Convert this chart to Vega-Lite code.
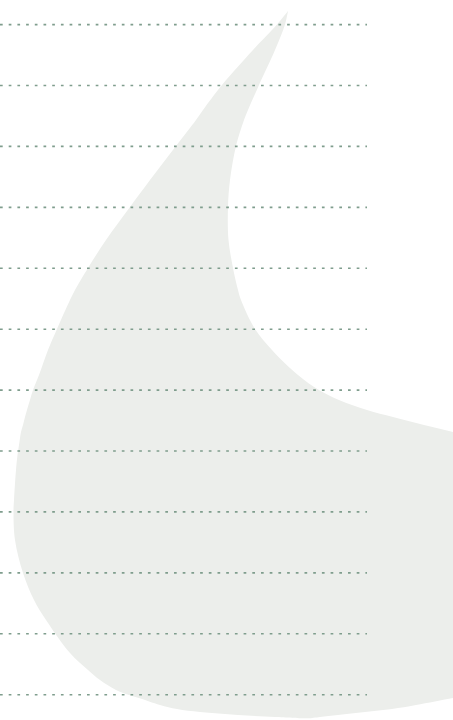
{
  "$schema": "https://vega.github.io/schema/vega-lite/v6.json",
  "width": 453,
  "height": 720,
  "padding": 0,
  "autosize": {"type": "none"},
  "background": "#ffffff",
  "config": {"view": {"stroke": null}},
  "datasets": {
    "shape": [
      {"y": 11, "left": 288, "right": 288},
      {"y": 24.5, "left": 277, "right": 285},
      {"y": 50, "left": 253, "right": 275},
      {"y": 85, "left": 222, "right": 259},
      {"y": 110, "left": 203, "right": 248},
      {"y": 120, "left": 196, "right": 244},
      {"y": 146, "left": 176, "right": 236},
      {"y": 180, "left": 150, "right": 230},
      {"y": 207, "left": 130, "right": 228},
      {"y": 240, "left": 106, "right": 228.5},
      {"y": 268, "left": 88, "right": 233},
      {"y": 290, "left": 75, "right": 238},
      {"y": 300, "left": 70, "right": 241},
      {"y": 329, "left": 57, "right": 255},
      {"y": 350, "left": 48, "right": 272},
      {"y": 375, "left": 39, "right": 298},
      {"y": 390, "left": 33, "right": 319},
      {"y": 400, "left": 30, "right": 339},
      {"y": 410, "left": 27, "right": 367},
      {"y": 417, "left": 25, "right": 393},
      {"y": 425, "left": 23, "right": 424},
      {"y": 432, "left": 21, "right": 453},
      {"y": 438, "left": 20, "right": 478},
      {"y": 445, "left": 19, "right": 506},
      {"y": 455, "left": 17.5, "right": 540},
      {"y": 470, "left": 16, "right": 560},
      {"y": 500, "left": 14, "right": 565},
      {"y": 512, "left": 13.5, "right": 565},
      {"y": 540, "left": 15, "right": 565},
      {"y": 573, "left": 23, "right": 565},
      {"y": 600, "left": 34, "right": 565},
      {"y": 620, "left": 46, "right": 565},
      {"y": 653, "left": 70, "right": 560},
      {"y": 670, "left": 88, "right": 555},
      {"y": 680, "left": 100, "right": 540},
      {"y": 690, "left": 116, "right": 495},
      {"y": 695, "left": 129, "right": 469},
      {"y": 698, "left": 139, "right": 453},
      {"y": 705, "left": 160, "right": 416},
      {"y": 709, "left": 177, "right": 392},
      {"y": 712, "left": 200, "right": 365},
      {"y": 715, "left": 238, "right": 338},
      {"y": 717, "left": 275, "right": 320},
      {"y": 718.3, "left": 302, "right": 310}
    ],
    "grid": [
      {"y": 24.6}, {"y": 85.5}, {"y": 146.4}, {"y": 207.4}, {"y": 268.3}, {"y": 329.2},
      {"y": 390.1}, {"y": 451.0}, {"y": 511.9}, {"y": 572.9}, {"y": 633.8}, {"y": 694.7}
    ]
  },
  "layer": [
    {
      "data": {"name": "shape"},
      "mark": {"type": "area", "orient": "horizontal", "interpolate": "catmull-rom", "color": "#eceeeb", "clip": true},
      "encoding": {
        "y": {"field": "y", "type": "quantitative", "scale": {"domain": [0, 720], "reverse": true, "nice": false, "zero": false}, "axis": null},
        "x": {"field": "left", "type": "quantitative", "scale": {"domain": [0, 453], "nice": false, "zero": false}, "axis": null},
        "x2": {"field": "right"}
      }
    },
    {
      "data": {"name": "grid"},
      "mark": {"type": "rule", "color": "#7f9d8d", "strokeWidth": 1.6, "strokeDash": [2.7, 6]},
      "encoding": {
        "y": {"field": "y", "type": "quantitative"},
        "x": {"datum": 0, "type": "quantitative"},
        "x2": {"datum": 367}
      }
    }
  ]
}
